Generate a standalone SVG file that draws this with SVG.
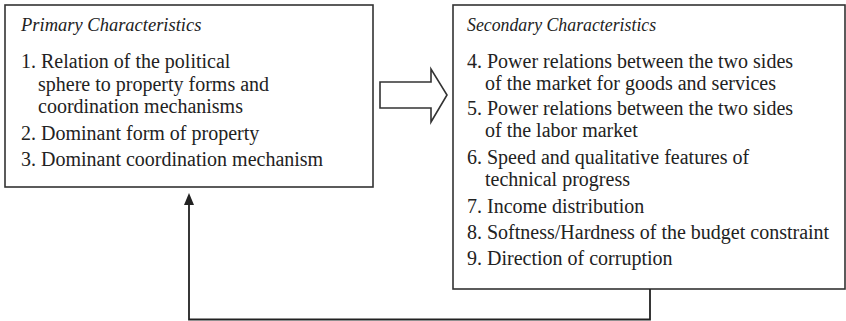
<svg xmlns="http://www.w3.org/2000/svg" width="846" height="321" viewBox="0 0 846 321">
  <style>
    .box { fill: #ffffff; stroke: #333333; stroke-width: 1.6; }
    .head { font-family: "Liberation Serif", "Times New Roman", serif; font-style: italic; font-size: 18.5px; fill: #222222; }
    .item { font-family: "Liberation Serif", "Times New Roman", serif; font-size: 20px; fill: #222222; }
    .conn { fill: none; stroke: #222222; stroke-width: 1.8; }
    .big { fill: #ffffff; stroke: #333333; stroke-width: 1.6; stroke-linejoin: miter; }
  </style>
  <rect width="846" height="321" fill="#ffffff"/>

  <g id="primary">
    <rect class="box" x="5" y="5" width="368" height="182"/>
    <text class="head" x="21" y="31">Primary Characteristics</text>
    <text class="item" x="21" y="68">1. Relation of the political</text>
    <text class="item" x="38" y="91">sphere to property forms and</text>
    <text class="item" x="38" y="113">coordination mechanisms</text>
    <text class="item" x="21" y="140">2. Dominant form of property</text>
    <text class="item" x="21" y="166">3. Dominant coordination mechanism</text>
  </g>

  <g id="secondary">
    <rect class="box" x="453" y="5" width="392" height="284"/>
    <text class="head" x="467" y="31" style="font-size:17.8px">Secondary Characteristics</text>
    <text class="item" x="467" y="68">4. Power relations between the two sides</text>
    <text class="item" x="485" y="90">of the market for goods and services</text>
    <text class="item" x="467" y="115">5. Power relations between the two sides</text>
    <text class="item" x="485" y="137">of the labor market</text>
    <text class="item" x="467" y="164">6. Speed and qualitative features of</text>
    <text class="item" x="485" y="186">technical progress</text>
    <text class="item" x="467" y="213">7. Income distribution</text>
    <text class="item" x="467" y="239">8. Softness/Hardness of the budget constraint</text>
    <text class="item" x="467" y="265">9. Direction of corruption</text>
  </g>

  <g id="connectors">
    <polygon class="big" points="380,82 431,82 431,69 447,95 431,122 431,108 380,108"/>
    <path class="conn" d="M650,289 V319.5 H189 V204"/>
    <path d="M189,193 L194,205 L184,205 Z" fill="#222222"/>
  </g>
</svg>
